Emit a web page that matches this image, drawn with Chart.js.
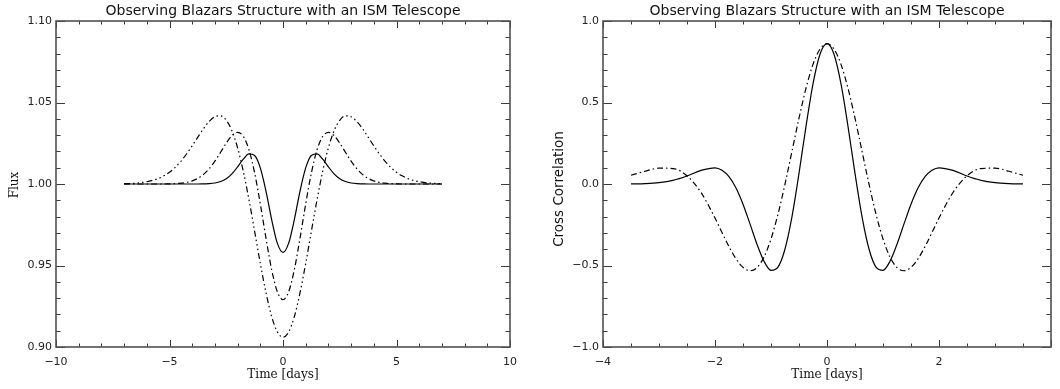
<!DOCTYPE html>
<html>
<head>
<meta charset="utf-8">
<title>Observing Blazars Structure with an ISM Telescope</title>
<style>
  html, body { margin: 0; padding: 0; background: #ffffff; }
  #wrap { position: relative; width: 1060px; height: 389px; overflow: hidden; }
  #wrap canvas { position: absolute; top: 0; }
</style>
<script src="https://cdn.jsdelivr.net/npm/chart.js@4/dist/chart.umd.min.js"></script>
</head>
<body>
<div id="wrap">
  <canvas id="fluxChart" width="530" height="389" style="left:0px"></canvas>
  <canvas id="corrChart" width="530" height="389" style="left:530px"></canvas>
</div>
<script>
// ---- Flux light curves (time in days) ----
const fluxTime = [-7, -6.5, -6, -5.75, -5.5, -5.25, -5, -4.75, -4.5, -4.25, -4, -3.75, -3.5, -3.25, -3,
  -2.75, -2.5, -2.25, -2, -1.75, -1.5, -1.25, -1, -0.75, -0.5, -0.25, 0,
  0.25, 0.5, 0.75, 1, 1.25, 1.5, 1.75, 2, 2.25, 2.5, 2.75, 3, 3.25, 3.5, 3.75, 4,
  4.25, 4.5, 4.75, 5, 5.25, 5.5, 5.75, 6, 6.5, 7];

const fluxSolid = [1.0000, 1.0000, 1.0000, 1.0000, 1.0000, 1.0000, 1.0000, 1.0000, 1.0000, 1.0000, 1.0000, 1.0000, 1.0001, 1.0002, 1.0006,
  1.0015, 1.0032, 1.0062, 1.0105, 1.0152, 1.0185, 1.0175, 1.0099, 0.9957, 0.9782, 0.9637, 0.9580,
  0.9637, 0.9782, 0.9957, 1.0099, 1.0175, 1.0185, 1.0152, 1.0105, 1.0062, 1.0032, 1.0015, 1.0006, 1.0002, 1.0001, 1.0000, 1.0000,
  1.0000, 1.0000, 1.0000, 1.0000, 1.0000, 1.0000, 1.0000, 1.0000, 1.0000, 1.0000];

const fluxDashDot = [1.0000, 1.0000, 1.0000, 1.0000, 1.0000, 1.0000, 1.0001, 1.0002, 1.0005, 1.0010, 1.0019, 1.0035, 1.0059, 1.0094, 1.0140,
  1.0195, 1.0251, 1.0297, 1.0317, 1.0292, 1.0210, 1.0068, 0.9878, 0.9668, 0.9475, 0.9339, 0.9290,
  0.9339, 0.9475, 0.9668, 0.9878, 1.0068, 1.0210, 1.0292, 1.0317, 1.0297, 1.0251, 1.0195, 1.0140, 1.0094, 1.0059, 1.0035, 1.0019,
  1.0010, 1.0005, 1.0002, 1.0001, 1.0000, 1.0000, 1.0000, 1.0000, 1.0000, 1.0000];

const fluxDashDotDot = [1.0002, 1.0005, 1.0014, 1.0022, 1.0033, 1.0050, 1.0072, 1.0102, 1.0139, 1.0184, 1.0234, 1.0288, 1.0340, 1.0384, 1.0413,
  1.0418, 1.0391, 1.0327, 1.0222, 1.0079, 0.9904, 0.9710, 0.9513, 0.9333, 0.9187, 0.9093, 0.9060,
  0.9093, 0.9187, 0.9333, 0.9513, 0.9710, 0.9904, 1.0079, 1.0222, 1.0327, 1.0391, 1.0418, 1.0413, 1.0384, 1.0340, 1.0288, 1.0234,
  1.0184, 1.0139, 1.0102, 1.0072, 1.0050, 1.0033, 1.0022, 1.0014, 1.0005, 1.0002];

// ---- Cross correlation (lag in days) ----
const corrLag = [-3.5, -3.25, -3, -2.75, -2.5, -2.25, -2, -1.875, -1.75, -1.625, -1.5, -1.375, -1.25, -1.125, -1,
  -0.875, -0.75, -0.625, -0.5, -0.375, -0.25, -0.125, 0,
  0.125, 0.25, 0.375, 0.5, 0.625, 0.75, 0.875, 1, 1.125, 1.25, 1.375, 1.5, 1.625, 1.75, 1.875,
  2, 2.25, 2.5, 2.75, 3, 3.25, 3.5];

const corrSolid = [0.0007, 0.0027, 0.0086, 0.0227, 0.0493, 0.0836, 0.0994, 0.0845, 0.0447, -0.0249, -0.1240, -0.2446, -0.3696, -0.4741, -0.5294,
  -0.5095, -0.3989, -0.1998, 0.0649, 0.3538, 0.6145, 0.7960, 0.8610,
  0.7960, 0.6145, 0.3538, 0.0649, -0.1998, -0.3989, -0.5095, -0.5294, -0.4741, -0.3696, -0.2446, -0.1240, -0.0249, 0.0447, 0.0845,
  0.0994, 0.0836, 0.0493, 0.0227, 0.0086, 0.0027, 0.0007];

const corrDashDot = [0.0534, 0.0780, 0.0973, 0.0949, 0.0503, -0.0521, -0.2087, -0.2978, -0.3843, -0.4591, -0.5117, -0.5323, -0.5128, -0.4480, -0.3372,
  -0.1848, -0.0004, 0.2017, 0.4040, 0.5874, 0.7339, 0.8284, 0.8610,
  0.8284, 0.7339, 0.5874, 0.4040, 0.2017, -0.0004, -0.1848, -0.3372, -0.4480, -0.5128, -0.5323, -0.5117, -0.4591, -0.3843, -0.2978,
  -0.2087, -0.0521, 0.0503, 0.0949, 0.0973, 0.0780, 0.0534];

const chartTitle = 'Observing Blazars Structure with an ISM Telescope';
const timeLabel = 'Time [days]';

// ---- helpers ----
const points = (xs, ys) => xs.map((x, i) => ({ x: x, y: ys[i] }));
const fmt = (v, digits) => (v < -1e-9 ? '\u2212' : '') + Math.abs(v).toFixed(digits);

const DASH_DOT = [6, 3, 1.5, 3];
const DASH_DOT3 = [6, 3, 1.5, 3, 1.5, 3, 1.5, 3];

function lineSet(data, dash) {
  return {
    data: data,
    borderColor: '#000000',
    borderWidth: 1.2,
    borderDash: dash,
    pointRadius: 0,
    fill: false,
    cubicInterpolationMode: 'monotone'
  };
}

// Boxed frame with inward major/minor ticks on all four sides, plus the titles.
function framePlugin(opt) {
  return {
    id: 'boxFrame',
    afterDraw(chart) {
      const ctx = chart.ctx;
      const a = chart.chartArea;
      const sx = chart.scales.x, sy = chart.scales.y;
      const isMajor = (v, step) => Math.abs(v / step - Math.round(v / step)) < 1e-6;
      ctx.save();
      ctx.strokeStyle = '#3c3c3c';
      ctx.lineWidth = 1;
      // x ticks (bottom and top)
      let n = Math.round((sx.max - sx.min) / opt.xMinor);
      for (let i = 0; i <= n; i++) {
        const v = sx.min + i * opt.xMinor;
        const px = Math.round(sx.getPixelForValue(v)) + 0.5;
        const len = isMajor(v, opt.xMajor) ? 7 : 3.5;
        ctx.beginPath();
        ctx.moveTo(px, a.bottom); ctx.lineTo(px, a.bottom - len);
        ctx.moveTo(px, a.top); ctx.lineTo(px, a.top + len);
        ctx.stroke();
      }
      // y ticks (left and right)
      n = Math.round((sy.max - sy.min) / opt.yMinor);
      for (let i = 0; i <= n; i++) {
        const v = sy.min + i * opt.yMinor;
        const py = Math.round(sy.getPixelForValue(v)) + 0.5;
        const len = isMajor(v, opt.yMajor) ? 9 : 4.5;
        ctx.beginPath();
        ctx.moveTo(a.left, py); ctx.lineTo(a.left + len, py);
        ctx.moveTo(a.right, py); ctx.lineTo(a.right - len, py);
        ctx.stroke();
      }
      // frame
      ctx.strokeStyle = '#505050';
      ctx.lineWidth = 1.6;
      ctx.strokeRect(a.left, a.top, a.right - a.left, a.bottom - a.top);

      const cx = (a.left + a.right) / 2;
      ctx.fillStyle = '#111111';
      ctx.textAlign = 'center';
      ctx.textBaseline = 'alphabetic';
      // main title
      ctx.font = '14px "DejaVu Sans"';
      ctx.fillText(chartTitle, cx, 15);
      // x axis title
      ctx.font = opt.xTitleFont;
      ctx.fillText(timeLabel, cx, 378);
      // y axis title
      ctx.save();
      ctx.translate(opt.yTitleX, opt.yTitleY);
      ctx.rotate(-Math.PI / 2);
      ctx.font = opt.yTitleFont;
      ctx.fillText(opt.yTitle, 0, 0);
      ctx.restore();
      ctx.restore();
    }
  };
}

const tickFont = { family: 'DejaVu Sans', size: 11 };

function baseOptions(cfg) {
  return {
    responsive: false,
    animation: false,
    devicePixelRatio: 1,
    layout: { padding: { top: 21, right: cfg.padRight, left: 0, bottom: 0 } },
    plugins: { legend: { display: false }, tooltip: { enabled: false }, title: { display: false } },
    scales: {
      x: {
        type: 'linear', min: cfg.xMin, max: cfg.xMax,
        afterFit(s) { s.height = 42; },
        grid: { display: false, drawTicks: false },
        border: { display: false },
        ticks: {
          stepSize: cfg.xStep, padding: 9, maxRotation: 0, autoSkip: false,
          color: '#222222', font: tickFont,
          callback: v => (cfg.hideX.includes(v) ? '' : fmt(v, 0))
        }
      },
      y: {
        type: 'linear', min: cfg.yMin, max: cfg.yMax,
        afterFit(s) { s.width = cfg.yWidth; },
        grid: { display: false, drawTicks: false },
        border: { display: false },
        ticks: {
          stepSize: cfg.yStep, padding: 4, autoSkip: false,
          color: '#222222', font: tickFont,
          callback: v => fmt(v, cfg.yDigits)
        }
      }
    }
  };
}

// Left panel: flux
new Chart(document.getElementById('fluxChart'), {
  type: 'line',
  data: {
    datasets: [
      lineSet(points(fluxTime, fluxSolid), []),
      lineSet(points(fluxTime, fluxDashDot), DASH_DOT),
      lineSet(points(fluxTime, fluxDashDotDot), DASH_DOT3)
    ]
  },
  options: baseOptions({ padRight: 20, xMin: -10, xMax: 10, xStep: 5, hideX: [],
    yMin: 0.9, yMax: 1.1, yStep: 0.05, yDigits: 2, yWidth: 56 }),
  plugins: [framePlugin({ xMinor: 1, xMajor: 5, yMinor: 0.01, yMajor: 0.05,
    yTitle: 'Flux', yTitleFont: '12px "DejaVu Serif"', yTitleX: 17.5, yTitleY: 185,
    xTitleFont: '12px "DejaVu Serif"' })]
});

// Right panel: cross correlation
new Chart(document.getElementById('corrChart'), {
  type: 'line',
  data: {
    datasets: [
      lineSet(points(corrLag, corrSolid), []),
      lineSet(points(corrLag, corrDashDot), DASH_DOT)
    ]
  },
  options: baseOptions({ padRight: 3, xMin: -4, xMax: 4, xStep: 2, hideX: [4],
    yMin: -1, yMax: 1, yStep: 0.5, yDigits: 1, yWidth: 73 }),
  plugins: [framePlugin({ xMinor: 0.5, xMajor: 2, yMinor: 0.1, yMajor: 0.5,
    yTitle: 'Cross Correlation', yTitleFont: '13.5px "DejaVu Sans"', yTitleX: 33, yTitleY: 189,
    xTitleFont: '12px "DejaVu Serif"' })]
});
</script>
</body>
</html>
